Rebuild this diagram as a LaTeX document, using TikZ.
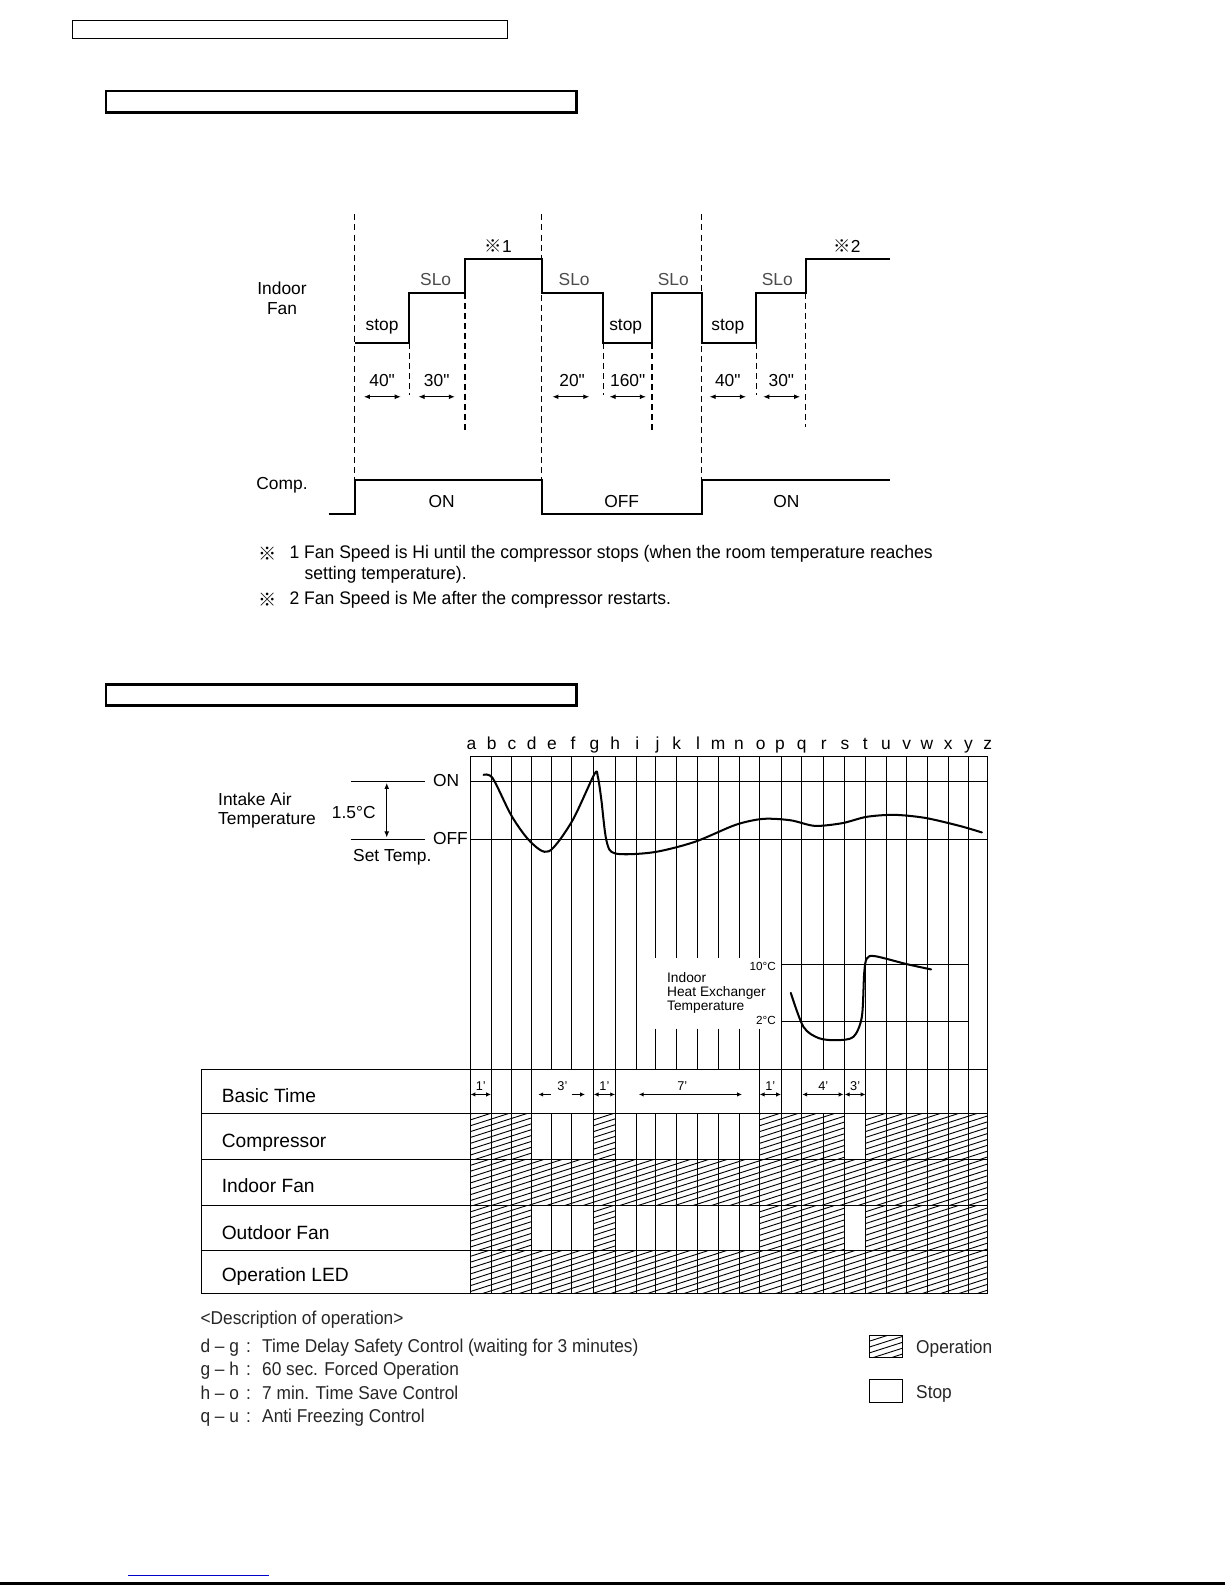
\documentclass[tikz,border=0pt]{standalone}
\usepackage{fontspec}
\setmainfont{Liberation Sans}
\newfontfamily\narrowfont[FakeStretch=0.93]{Liberation Sans}
\newfontfamily\footfont[FakeStretch=0.965]{Liberation Sans}
\newfontfamily\qfont[Ligatures=TeXOff]{Liberation Sans}
\newfontfamily\cjkfont{Noto Sans CJK JP}
\usetikzlibrary{arrows.meta}
\newcommand\hatchbox[4]{%
  \begin{scope}
    \clip (#1,#3) rectangle (#2,#4);
    \pgfmathsetmacro\hw{#2-#1}
    \pgfmathtruncatemacro\hn{((#4-#3)+0.32*\hw)/5.8+1}
    \foreach \k in {0,...,\hn} \draw[hatch] (#1,#3+\k*5.8) -- ++(\hw,-0.32*\hw);
  \end{scope}}
\newcommand\dq{{\qfont"}}
\tikzset{
  lbl/.style={inner sep=0pt, font=\fontsize{8.6}{10}\selectfont},
  slo/.style={lbl, text=black!70},
  foot/.style={inner sep=0pt, font=\footfont\fontsize{9}{11}\selectfont},
  rowlbl/.style={inner sep=0pt, anchor=base west, font=\fontsize{9.5}{11}\selectfont},
  tiny/.style={inner sep=0pt, font=\fontsize{6.3}{7}\selectfont},
  hx/.style={inner sep=0pt, font=\fontsize{5.8}{6}\selectfont, anchor=east},
  desc/.style={inner sep=0pt, anchor=base west, text=black!85, font=\narrowfont\fontsize{9.2}{11}\selectfont},
  wave/.style={line width=1pt},
  dsh/.style={line width=0.6pt, dash pattern=on 3pt off 2pt},
  dimarrow/.style={line width=0.5pt, {Latex[length=3pt,width=2.4pt]}-{Latex[length=3pt,width=2.4pt]}},
  btarrow/.style={line width=0.8pt, {Latex[length=2.4pt,width=2.2pt]}-{Latex[length=2.4pt,width=2.2pt]}},
  btone/.style={line width=0.8pt, -{Latex[length=2.4pt,width=2.2pt]}},
  gridl/.style={line width=0.5pt},
  hatch/.style={line width=0.45pt},
  curve/.style={line width=1pt, line join=round, line cap=round},
}
\begin{document}
\begin{tikzpicture}[x=0.5pt,y=-0.5pt]
\useasboundingbox[fill=white] (0,0) rectangle (1212,1568);

% header boxes
\draw[line width=0.6pt] (72,20) rectangle (502,38);
\draw[line width=1.3pt] (105,90) rectangle (570,111);
\draw[line width=1.3pt] (105,677) rectangle (570,698);

% ---------------- Section 1: timing chart ----------------
\foreach \x in {351,536,694} \draw[dsh] (\x,212) -- (\x,475);
\draw[dsh] (405,339) -- (405,391);
\draw[dsh] (460,289.6) -- (460,427);
\draw[dsh] (597,339) -- (597,391);
\draw[dsh] (645,289.6) -- (645,425.5);
\draw[dsh] (748,339) -- (748,391);
\draw[dsh] (797,289.6) -- (797,422);

\draw[wave] (351,339) -- (405,339) -- (405,289.6) -- (460,289.6) -- (460,256.6)
  -- (536,256.6) -- (536,289.6) -- (597,289.6) -- (597,339) -- (645,339)
  -- (645,289.6) -- (694,289.6) -- (694,339) -- (748,339) -- (748,289.6)
  -- (797,289.6) -- (797,256.6) -- (880,256.6);
\draw[wave] (325,508) -- (351,508) -- (351,475) -- (536,475) -- (536,508)
  -- (694,508) -- (694,475) -- (880,475);

\node[lbl] (indoor) at (279,285) {Indoor};
\node[lbl] (fan) at (279,305) {Fan};
\node[lbl] (comp) at (279,480) {Comp.};

\node[lbl] (st1) at (378,323) {stop};
\node[lbl] (st2) at (619,323) {stop};
\node[lbl] (st3) at (720,323) {stop};
\node[slo] (sl1) at (431,277) {SLo};
\node[slo] (sl2) at (568,277) {SLo};
\node[slo] (sl3) at (666,277) {SLo};
\node[slo] (sl4) at (769,277) {SLo};
\node[lbl] (ref1) at (493,243) {{\cjkfont ※}1};
\node[lbl] (ref2) at (838,243) {{\cjkfont ※}2};

\node[lbl] (t40a) at (378,376) {40\dq};
\node[lbl] (t30a) at (432,376) {30\dq};
\node[lbl] (t20) at (566,376) {20\dq};
\node[lbl] (t160) at (621,376) {160\dq};
\node[lbl] (t40b) at (720,376) {40\dq};
\node[lbl] (t30b) at (773,376) {30\dq};
\draw[dimarrow] (360,392.5) -- (396.5,392.5);
\draw[dimarrow] (414,392.5) -- (450,392.5);
\draw[dimarrow] (546.5,392.5) -- (583,392.5);
\draw[dimarrow] (603,392.5) -- (639,392.5);
\draw[dimarrow] (702,392.5) -- (738,392.5);
\draw[dimarrow] (755,392.5) -- (791.5,392.5);

\node[lbl] (on1) at (437,496) {ON};
\node[lbl] (off1) at (615,496) {OFF};
\node[lbl] (on2) at (778,496) {ON};

\node[foot] (fm1) at (265,548) {\cjkfont ※};
\node[foot, anchor=west] (fn1) at (286,548) {1 Fan Speed is Hi until the compressor stops (when the room temperature reaches};
\node[foot, anchor=west] (fn1b) at (301,569) {setting temperature).};
\node[foot] (fm2) at (265,593) {\cjkfont ※};
\node[foot, anchor=west] (fn2) at (286,593) {2 Fan Speed is Me after the compressor restarts.};

% ---------------- Section 2 ----------------
\foreach \l/\x in {a/466.5,b/486.5,c/506.5,d/526,e/546,f/567,g/588,h/608.5,i/630.5,j/650.5,k/669.5,l/690.5,m/710.5,n/731,o/752.5,p/771.5,q/793,r/815,s/836,t/856,u/876.5,v/897,w/917,x/938,y/958,z/977}
  \node[lbl, anchor=base] (L\l) at (\x,741.5) {\l};

% hatching
\hatchbox{465.5}{525.4}{1102}{1147}
\hatchbox{587.3}{608.5}{1102}{1147}
\hatchbox{751.6}{835.7}{1102}{1147}
\hatchbox{856.2}{976.5}{1102}{1147}
\hatchbox{465.5}{976.5}{1147}{1193}
\hatchbox{465.5}{525.4}{1193}{1237}
\hatchbox{587.3}{608.5}{1193}{1237}
\hatchbox{751.6}{835.7}{1193}{1237}
\hatchbox{856.2}{976.5}{1193}{1237}
\hatchbox{465.5}{976.5}{1237}{1280}

% upper grid
\draw[gridl] (465.5,748) -- (976.5,748);
\draw[gridl] (465.5,773) -- (976.5,773);
\draw[gridl] (465.5,830) -- (976.5,830);
\foreach \x in {465.5,485.8,506.3,525.4,545.5,565.8,587.3,608.5,629.6,772.7,793.1,814.6,835.7,856.2,876.6,897.1,917.5,937.9,958.3,976.5}
  \draw[gridl] (\x,748) -- (\x,1058);
\foreach \x in {648.7,669.1,690.2,710.7,731.1,751.6} {
  \draw[gridl] (\x,748) -- (\x,948);
  \draw[gridl] (\x,1017.5) -- (\x,1058);
}
\draw[gridl] (772.7,953.8) -- (958.3,953.8);
\draw[gridl] (772.7,1010.9) -- (958.3,1010.9);
\node[hx] (t10) at (767.8,956) {10°C};
\node[hx] (t2) at (767.8,1010) {2°C};
\node[inner sep=0pt, anchor=west, align=left, font=\fontsize{6.8}{6.85}\selectfont] (hxlbl) at (659.6,982) {Indoor\\Heat Exchanger\\Temperature};

% intake air temperature reference
\draw[gridl] (347,773) -- (420,773);
\draw[gridl] (347,830) -- (420,830);
\node[lbl, anchor=west] (onlbl) at (428,772) {ON};
\node[lbl, anchor=west] (offlbl) at (428,830) {OFF};
\draw[dimarrow] (382.6,774.5) -- (382.6,828.5);
\node[lbl] (deg15) at (350,804) {1.5°C};
\node[lbl, anchor=west] (settemp) at (349,848) {Set Temp.};
\node[lbl, anchor=west] (intake1) at (215.5,791) {Intake Air};
\node[lbl, anchor=west] (intake2) at (215.5,812) {Temperature};

% curves
\draw[curve] plot[smooth, tension=0.5] coordinates {(478.3,766.6) (487.5,770) (506.3,807.5) (525,833) (543,842.2) (565.8,812.6) (588,765.9) (591.4,768.3) (594.8,790.4) (599.9,831.3) (608.5,844.3) (645.9,843.2) (686.8,833) (727.7,816) (755,810.1) (782.2,811.5) (806.1,817) (833.3,814.3) (857.2,808.1) (884.4,806.1) (915.1,809.1) (949.2,817) (971.3,823.5)};
\draw[curve] plot[smooth, tension=0.5] coordinates {(782.3,982.2) (794.8,1015.8) (810,1027) (827.8,1029) (844.3,1025.7) (852.6,1005.9) (854.9,963) (857.5,948.2) (865.7,945.9) (897.1,953.8) (921.1,959)};

% table
\draw[gridl] (199,1058) rectangle (976.5,1280);
\foreach \y in {1102,1147,1193,1237} \draw[gridl] (199,\y) -- (976.5,\y);
\foreach \x in {465.5,485.8,506.3,525.4,587.3,608.5,751.6,772.7,793.1,835.7,856.2,876.6,897.1,917.5,937.9,958.3}
  \draw[gridl] (\x,1058) -- (\x,1102);
\foreach \x in {465.5,485.8,506.3,525.4,545.5,565.8,587.3,608.5,629.6,648.7,669.1,690.2,710.7,731.1,751.6,772.7,793.1,814.6,835.7,856.2,876.6,897.1,917.5,937.9,958.3}
  \draw[gridl] (\x,1102) -- (\x,1280);

\node[rowlbl] (rb) at (219,1091) {Basic Time};
\node[rowlbl] (rc) at (219,1135) {Compressor};
\node[rowlbl] (ri) at (219,1180) {Indoor Fan};
\node[rowlbl] (ro) at (219,1226) {Outdoor Fan};
\node[rowlbl] (rl) at (219,1268) {Operation LED};

% basic time arrows
\draw[btarrow] (465.5,1082.7) -- (485.8,1082.7);
\node[tiny] (b1) at (475.6,1074) {1'};
\draw[btone] (545,1082.7) -- (532.6,1082.7);
\draw[btone] (565.6,1082.7) -- (578.8,1082.7);
\node[tiny] (b2) at (556.4,1074) {3'};
\draw[btarrow] (587.3,1082.7) -- (608.5,1082.7);
\node[tiny] (b3) at (597.9,1074) {1'};
\draw[btarrow] (632,1082.7) -- (734,1082.7);
\node[tiny] (b4) at (675,1074) {7'};
\draw[btarrow] (751.6,1082.7) -- (772.7,1082.7);
\node[tiny] (b5) at (762,1074) {1'};
\draw[btarrow] (793.7,1082.7) -- (834.5,1082.7);
\node[tiny] (b6) at (814.5,1074) {4'};
\draw[btarrow] (835.7,1082.7) -- (856.2,1082.7);
\node[tiny] (b7) at (846,1074) {3'};

% description
\node[desc] (dh) at (198,1310) {<Description of operation>};
\node[desc] (d1k) at (198,1338) {d – g};
\node[desc] (d2k) at (198,1361) {g – h};
\node[desc] (d3k) at (198,1384) {h – o};
\node[desc] (d4k) at (198,1407) {q – u};
\foreach \y in {1338,1361,1384,1407} \node[desc] at (243,\y) {:};
\node[desc] (d1) at (259,1338) {Time Delay Safety Control (waiting for 3 minutes)};
\node[desc] (d2) at (259,1361) {60 sec. Forced Operation};
\node[desc] (d3) at (259,1384) {7 min. Time Save Control};
\node[desc] (d4) at (259,1407) {Anti Freezing Control};

% legend
\hatchbox{860}{893}{1321}{1343}
\draw[gridl] (860,1321) rectangle (893,1343);
\draw[gridl] (860,1365) rectangle (893,1387);
\node[desc] (lop) at (906,1339) {Operation};
\node[desc] (lst) at (906,1383) {Stop};

% footer
\draw[line width=0.7pt, blue!80!black] (127,1558.3) -- (266,1558.3);
\draw[line width=1pt] (0,1566.5) -- (1212,1566.5);
\end{tikzpicture}
\end{document}
